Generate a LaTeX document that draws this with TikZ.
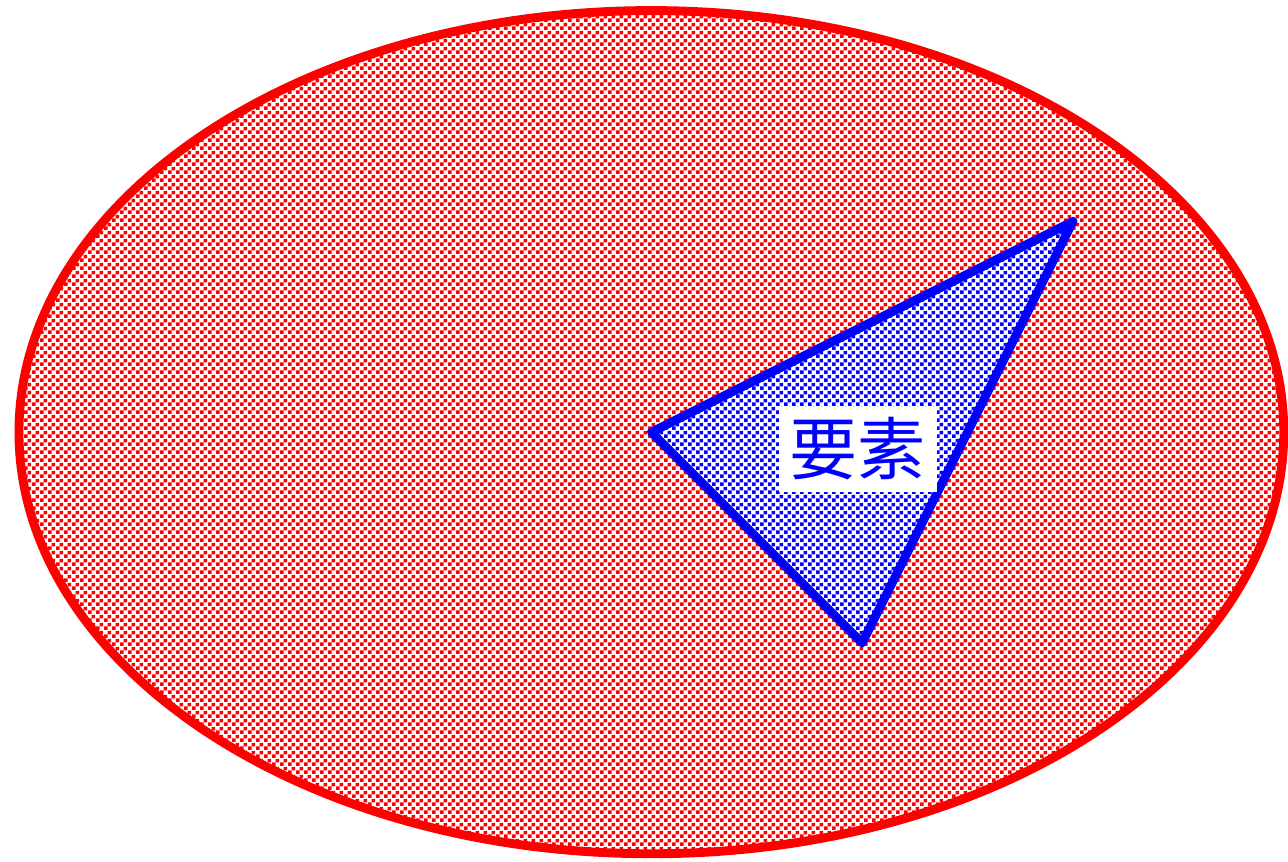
\documentclass[tikz,border=0pt]{standalone}
\usepackage{fontspec}
\newfontfamily\cjk{Noto Sans CJK SC}
\usetikzlibrary{patterns.meta}

\tikzdeclarepattern{
  name=finechecker,
  type=uncolored,
  bottom left={(0pt,0pt)},
  top right={(1.08pt,1.08pt)},
  tile size={(1.08pt,1.08pt)},
  code={
    \fill (0pt,0pt) rectangle (0.54pt,0.54pt);
    \fill (0.54pt,0.54pt) rectangle (1.08pt,1.08pt);
  }
}

\begin{document}
\begin{tikzpicture}[outer/.style={draw=red, very thick, pattern=finechecker, pattern color=red},
  inner/.style={draw=blue, very thick, line join=round, preaction={fill=white}, pattern=finechecker, pattern color=blue},
  label/.style={fill=white, text=blue, inner sep=1.5pt, font=\cjk\fontsize{9.2}{11}\selectfont}]
\useasboundingbox (-3.09,-2.035) rectangle (3.02,2.05);
\draw[outer] (0,0) ellipse (3 and 2);
\draw[inner] (0,0) -- (2,1) -- (1,-1) -- cycle;
\node[name=elem, label] at (0.98,-0.08) {要素};
\end{tikzpicture}
\end{document}
